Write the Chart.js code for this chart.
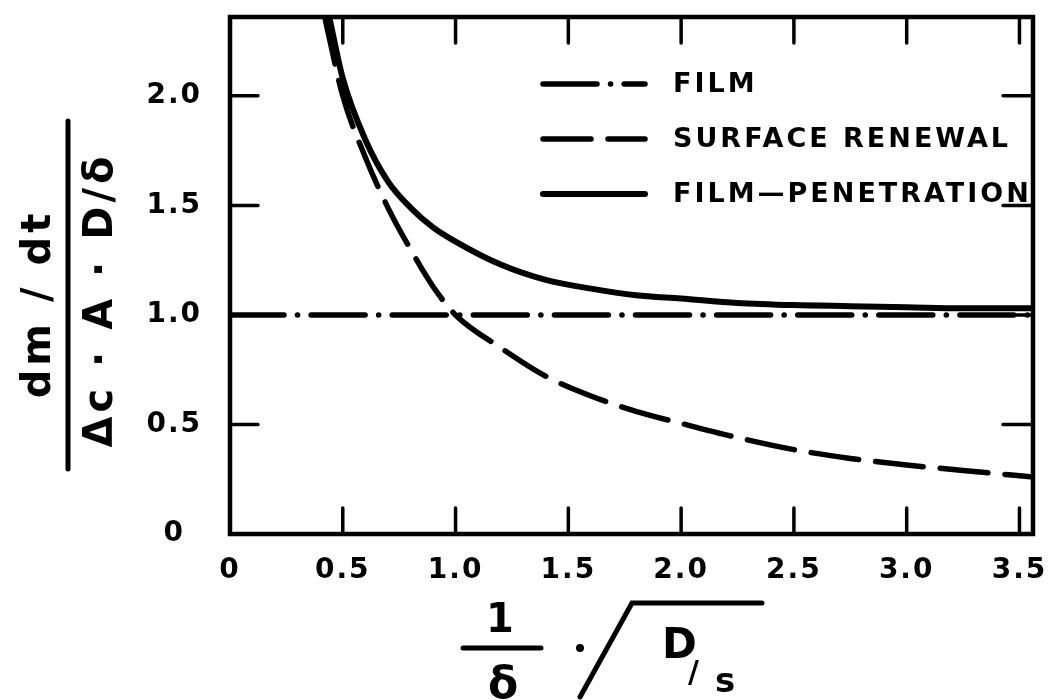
<!DOCTYPE html>
<html>
<head>
<meta charset="UTF-8">
<title>Film, surface renewal and film-penetration models</title>
<script src="https://cdn.jsdelivr.net/npm/chart.js"></script>
<style>
    html, body { margin: 0; padding: 0; background: #ffffff; }
    #wrap { width: 1055px; height: 700px; }
</style>
</head>
<body>
<div id="wrap"><canvas id="chart" width="1055" height="700"></canvas></div>
<script>
// axis ticks
const xTickValues = [0, 0.5, 1.0, 1.5, 2.0, 2.5, 3.0, 3.5];
const xTickLabels = ['0', '0.5', '1.0', '1.5', '2.0', '2.5', '3.0', '3.5'];
const yTickValues = [0, 0.5, 1.0, 1.5, 2.0];
const yTickLabels = ['0', '0.5', '1.0', '1.5', '2.0'];

const seriesNames = ['FILM', 'SURFACE RENEWAL', 'FILM—PENETRATION'];

// values
const filmX = [0, 3.56];
const filmY = [1.0, 1.0];

const renewalX = [0.42, 0.5, 0.6, 0.7, 0.8, 0.9, 1.0, 1.2, 1.4, 1.6, 1.8, 2.0, 2.25, 2.5, 2.75, 3.0, 3.25, 3.56];
const renewalY = [2.36, 2.0, 1.72, 1.49, 1.30, 1.13, 1.0, 0.85, 0.72, 0.63, 0.56, 0.505, 0.44, 0.385, 0.345, 0.315, 0.29, 0.26];

const penetrationX = [0.44, 0.5, 0.6, 0.7, 0.8, 0.9, 1.0, 1.2, 1.4, 1.6, 1.8, 2.0, 2.25, 2.5, 2.75, 3.0, 3.25, 3.56];
const penetrationY = [2.36, 2.08, 1.80, 1.61, 1.49, 1.40, 1.335, 1.23, 1.16, 1.12, 1.09, 1.075, 1.055, 1.045, 1.04, 1.035, 1.03, 1.03];

const tickFont = { family: '"DejaVu Sans"', size: 28, weight: 'bold' };

function points(xs, ys) {
    return xs.map((v, i) => ({ x: v, y: ys[i] }));
}

// spacing of the hand lettering
const spacing = {
    id: 'spacing',
    beforeLayout(chart) { chart.ctx.letterSpacing = '2px'; },
    beforeDraw(chart) { chart.ctx.letterSpacing = '2px'; }
};

// box frame with inward ticks on all four sides
const frameTicks = {
    id: 'frameTicks',
    afterDatasetsDraw(chart) {
        const { ctx, chartArea: a, scales: { x, y } } = chart;
        ctx.save();
        ctx.strokeStyle = '#000';
        ctx.lineCap = 'round';
        ctx.lineWidth = 3.5;
        ctx.beginPath();
        xTickValues.forEach(v => {
            if (v === 0) return;
            const px = x.getPixelForValue(v);
            ctx.moveTo(px, a.bottom); ctx.lineTo(px, a.bottom - 26);
            ctx.moveTo(px, a.top); ctx.lineTo(px, a.top + 26);
        });
        yTickValues.forEach(v => {
            if (v === 0) return;
            const py = y.getPixelForValue(v);
            ctx.moveTo(a.left, py); ctx.lineTo(a.left + 28, py);
            ctx.moveTo(a.right, py); ctx.lineTo(a.right - 30, py);
        });
        ctx.stroke();
        ctx.lineWidth = 4.5;
        ctx.lineCap = 'square';
        ctx.strokeRect(a.left, a.top, a.right - a.left, a.bottom - a.top);
        ctx.restore();
    }
};

// legend inside the plot, upper right
const innerLegend = {
    id: 'innerLegend',
    afterDatasetsDraw(chart) {
        const { ctx } = chart;
        ctx.save();
        ctx.fillStyle = '#000';
        ctx.strokeStyle = '#000';
        ctx.font = 'bold 27px "DejaVu Sans"';
        ctx.letterSpacing = '3px';
        ctx.textBaseline = 'middle';
        chart.data.datasets.forEach((ds, i) => {
            const yy = 84 + i * 55;
            ctx.lineWidth = ds.borderWidth;
            ctx.lineCap = ds.borderCapStyle || 'butt';
            ctx.setLineDash(ds.borderDash || []);
            ctx.beginPath();
            ctx.moveTo(543, yy);
            ctx.lineTo(645, yy);
            ctx.stroke();
            ctx.setLineDash([]);
            ctx.fillText(ds.label, 673, yy + 1);
        });
        ctx.restore();
    }
};

// axis titles written as fractions
const axisTitles = {
    id: 'axisTitles',
    afterDraw(chart) {
        const { ctx } = chart;
        ctx.save();
        ctx.fillStyle = '#000';
        ctx.strokeStyle = '#000';
        ctx.lineCap = 'round';
        ctx.textAlign = 'center';
        ctx.textBaseline = 'alphabetic';
        ctx.letterSpacing = '4px';

        // y title, rotated
        ctx.font = 'bold 40px "DejaVu Sans"';
        ctx.save();
        ctx.translate(50, 304);
        ctx.rotate(-Math.PI / 2);
        ctx.fillText('dm / dt', 0, 0);
        ctx.restore();
        ctx.lineWidth = 5;
        ctx.beginPath();
        ctx.moveTo(68, 121); ctx.lineTo(68, 469);
        ctx.stroke();
        ctx.save();
        ctx.translate(112, 300);
        ctx.rotate(-Math.PI / 2);
        ctx.fillText('Δc · A · D/δ', 0, 0);
        ctx.restore();

        // x title
        ctx.letterSpacing = '0px';
        ctx.font = 'bold 40px "DejaVu Sans"';
        ctx.fillText('1', 500, 632);
        ctx.beginPath();
        ctx.moveTo(463, 648); ctx.lineTo(541, 648);
        ctx.stroke();
        ctx.font = 'bold 44px "DejaVu Sans"';
        ctx.fillText('δ', 503, 698);
        ctx.beginPath();
        ctx.arc(580, 648, 4, 0, Math.PI * 2);
        ctx.fill();
        ctx.beginPath();
        ctx.moveTo(580, 697); ctx.lineTo(632, 603); ctx.lineTo(762, 603);
        ctx.stroke();
        ctx.textAlign = 'left';
        ctx.font = 'bold 42px "DejaVu Sans"';
        ctx.fillText('D', 662, 658);
        ctx.font = 'bold 30px "DejaVu Sans"';
        ctx.fillText('/', 688, 682);
        ctx.font = 'bold 34px "DejaVu Sans"';
        ctx.fillText('s', 715, 692);
        ctx.restore();
    }
};

new Chart(document.getElementById('chart'), {
    type: 'scatter',
    data: {
        datasets: [
            {
                label: seriesNames[0],
                data: points(filmX, filmY),
                showLine: true,
                borderColor: '#000',
                borderWidth: 5.5,
                borderDash: [54, 13.5, 0.1, 13.5],
                borderCapStyle: 'round',
                pointRadius: 0
            },
            {
                label: seriesNames[1],
                data: points(renewalX, renewalY),
                showLine: true,
                borderColor: '#000',
                borderWidth: 5.5,
                borderDash: [48, 17],
                borderCapStyle: 'round',
                cubicInterpolationMode: 'monotone',
                pointRadius: 0
            },
            {
                label: seriesNames[2],
                data: points(penetrationX, penetrationY),
                showLine: true,
                borderColor: '#000',
                borderWidth: 6,
                borderCapStyle: 'round',
                cubicInterpolationMode: 'monotone',
                pointRadius: 0
            }
        ]
    },
    options: {
        responsive: false,
        animation: false,
        layout: { padding: { top: 17, right: 22, left: 0, bottom: 0 } },
        plugins: {
            legend: { display: false },
            tooltip: { enabled: false }
        },
        scales: {
            x: {
                type: 'linear',
                min: 0,
                max: 3.56,
                afterBuildTicks: s => { s.ticks = xTickValues.map(v => ({ value: v })); },
                afterFit: s => { s.height = 166; s.paddingLeft = 0; s.paddingRight = 0; },
                grid: { display: false, drawTicks: false },
                border: { display: false },
                ticks: {
                    callback: (v, i) => xTickLabels[i],
                    font: tickFont,
                    color: '#000',
                    padding: 20,
                    maxRotation: 0,
                    autoSkip: false
                }
            },
            y: {
                type: 'linear',
                min: 0,
                max: 2.36,
                afterBuildTicks: s => { s.ticks = yTickValues.map(v => ({ value: v })); },
                afterFit: s => { s.width = 230; s.paddingTop = 0; s.paddingBottom = 0; },
                grid: { display: false, drawTicks: false },
                border: { display: false },
                ticks: {
                    callback: (v, i) => yTickLabels[i],
                    font: tickFont,
                    color: '#000',
                    padding: 28,
                    crossAlign: 'center',
                    autoSkip: false
                }
            }
        }
    },
    plugins: [spacing, frameTicks, innerLegend, axisTitles]
});
</script>
</body>
</html>
